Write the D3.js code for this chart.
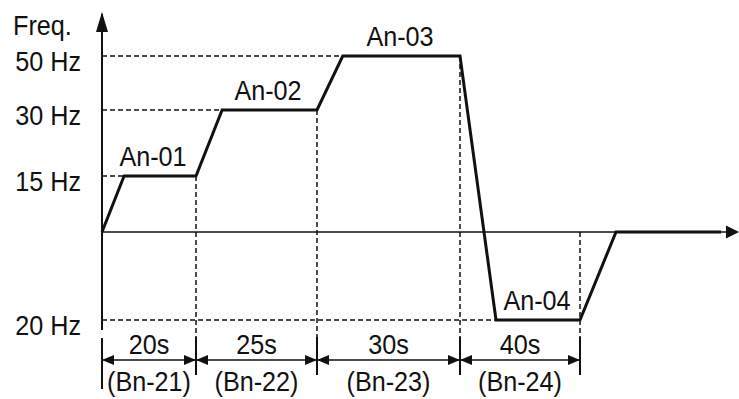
<!DOCTYPE html>
<html>
<head>
<meta charset="utf-8">
<script src="https://cdn.jsdelivr.net/npm/d3@7"></script>
<style>
  body { margin: 0; background: #fff; }
  text { font-family: 'Liberation Sans', Arial, sans-serif; font-size: 28px; fill: #111; }
</style>
</head>
<body>
<svg></svg>
<script>
// step data
var steps = ['An-01', 'An-02', 'An-03', 'An-04'];
var stepFreq = [15, 30, 50, -20];
var freqLabels = ['15 Hz', '30 Hz', '50 Hz', '20 Hz'];
var durations = [20, 25, 30, 40];
var durLabels = ['20s', '25s', '30s', '40s'];
var paramLabels = ['(Bn-21)', '(Bn-22)', '(Bn-23)', '(Bn-24)'];
// profile vertices: time (s), freq (Hz)
var profileT = [0, 4.7, 20, 25.4, 45, 50.4, 75, 87, 115, 127, 162];
var profileF = [0, 15, 15, 30, 30, 50, 50, -20, -20, 0, 0];

var svg = d3.select('svg')
    .attr('width', 739)
    .attr('height', 399);

var bounds = [0];
durations.forEach((d, i) => bounds.push(bounds[i] + d));

// schematic (piecewise) scales
var x = d3.scaleLinear()
    .domain([0, 20, 45, 75, 115, 165])
    .range([102, 196, 317, 460, 580, 730]);
var y = d3.scaleLinear()
    .domain([-20, 0, 15, 30, 50])
    .range([320, 232, 176, 110, 56]);

var dimY = 360, tickTop = 337, tickBot = 375;

var defs = svg.append('defs');
defs.append('marker')
    .attr('id', 'head')
    .attr('viewBox', '0 0 12 10')
    .attr('refX', 12).attr('refY', 5)
    .attr('markerWidth', 12).attr('markerHeight', 10)
    .attr('markerUnits', 'userSpaceOnUse')
    .attr('orient', 'auto-start-reverse')
  .append('path')
    .attr('d', 'M0,0L12,5L0,10Z')
    .attr('fill', '#111');

// condensed-looking text
function label(sel, data, fx, fy, anchor, txt) {
    sel.selectAll('text')
        .data(data)
        .enter()
        .append('text')
            .attr('transform', (d, i) => 'translate(' + fx(d, i) + ',' + fy(d, i) + ') scale(0.9,1)')
            .attr('text-anchor', anchor)
            .text(txt);
}

// guide lines
var profile = profileT.map((t, i) => [t, profileF[i]]);
var reachT = stepFreq.map((f) => profile.find((p) => p[1] === f)[0]);
svg.append('g')
    .selectAll('line')
    .data(stepFreq)
    .enter()
    .append('line')
        .attr('x1', x(0))
        .attr('x2', (d, i) => x(reachT[i]))
        .attr('y1', (d) => y(d))
        .attr('y2', (d) => y(d))
        .attr('stroke', '#111')
        .attr('stroke-width', 1.5)
        .attr('stroke-dasharray', '5,3');

var vert = bounds.slice(1);
var fAt = (t) => {
    var k = d3.bisector((p) => p[0]).left(profile, t);
    var a = profile[Math.max(k - 1, 0)], b = profile[k];
    if (b[0] === t) { return b[1]; }
    return a[1] + (b[1] - a[1]) * (t - a[0]) / (b[0] - a[0]);
};
svg.append('g')
    .selectAll('line')
    .data(vert)
    .enter()
    .append('line')
        .attr('x1', (d) => x(d))
        .attr('x2', (d) => x(d))
        .attr('y1', (d) => y(Math.max(fAt(d), 0)))
        .attr('y2', tickBot)
        .attr('stroke', '#111')
        .attr('stroke-width', 1.5)
        .attr('stroke-dasharray', '5,3');

// axes
svg.append('line')
    .attr('x1', x(0)).attr('x2', x(0))
    .attr('y1', 330).attr('y2', 14)
    .attr('stroke', '#111').attr('stroke-width', 2);
svg.append('path')
    .attr('d', 'M' + x(0) + ',12l-6,20h12z')
    .attr('fill', '#111');
svg.append('line')
    .attr('x1', x(0)).attr('x2', 737)
    .attr('y1', y(0)).attr('y2', y(0))
    .attr('stroke', '#111').attr('stroke-width', 1.5);
svg.append('path')
    .attr('d', 'M739,' + y(0) + 'l-13,-6.5v13z')
    .attr('fill', '#111');

// profile
svg.append('path')
    .datum(profile)
    .attr('d', d3.line().x((d) => x(d[0])).y((d) => y(d[1])))
    .attr('fill', 'none')
    .attr('stroke', '#111')
    .attr('stroke-width', 3)
    .attr('stroke-linejoin', 'miter');

// dimension ticks and arrows
svg.append('line')
    .attr('x1', x(0)).attr('x2', x(0))
    .attr('y1', 338).attr('y2', 389)
    .attr('stroke', '#111').attr('stroke-width', 2);
svg.append('g')
    .selectAll('line')
    .data(vert)
    .enter()
    .append('line')
        .attr('x1', (d) => x(d))
        .attr('x2', (d) => x(d))
        .attr('y1', tickTop)
        .attr('y2', tickBot)
        .attr('stroke', '#111')
        .attr('stroke-width', 2);
svg.append('g')
    .selectAll('line')
    .data(durations)
    .enter()
    .append('line')
        .attr('x1', (d, i) => x(bounds[i]))
        .attr('x2', (d, i) => x(bounds[i + 1]))
        .attr('y1', dimY)
        .attr('y2', dimY)
        .attr('stroke', '#111')
        .attr('stroke-width', 1.5)
        .attr('marker-start', 'url(#head)')
        .attr('marker-end', 'url(#head)');

// texts
label(svg.append('g'), ['Freq.'], () => 13, () => 35, 'start', (d) => d);
label(svg.append('g'), stepFreq, () => 81, (d) => y(d) + 15, 'end', (d, i) => freqLabels[i]);

var stepLabelX = [153, 268, 400, 537];
label(svg.append('g'), steps, (d, i) => stepLabelX[i], (d, i) => y(stepFreq[i]) - 10, 'middle', (d) => d);

var mid = (d, i) => (x(bounds[i]) + x(bounds[i + 1])) / 2;
label(svg.append('g'), durLabels, mid, () => 354, 'middle', (d) => d);
label(svg.append('g'), paramLabels, mid, () => 391, 'middle', (d) => d);
</script>
</body>
</html>
